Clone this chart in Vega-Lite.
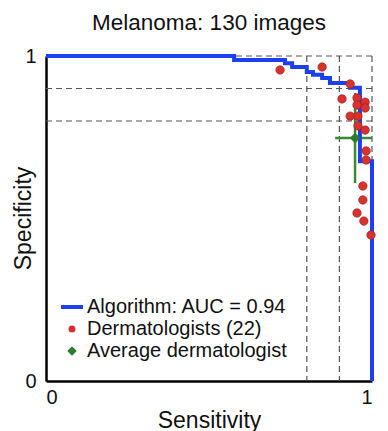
{
  "$schema": "https://vega.github.io/schema/vega-lite/v6.json",
  "width": 326,
  "height": 325,
  "autosize": "none",
  "padding": {"left": 46, "top": 56, "right": 16, "bottom": 50},
  "title": {"text": "Melanoma: 130 images", "fontSize": 22.5, "fontWeight": "normal", "font": "Liberation Sans", "color": "#111", "anchor": "middle", "offset": 12},
  "datasets": {
    "vgrid": [{"v": 0.8}, {"v": 0.9}, {"v": 1.0}],
    "hgrid": [{"v": 0.8}, {"v": 0.9}, {"v": 1.0}],
    "roc": [
      {"i": 0, "sens": 0.0, "spec": 1.0, "series": "Algorithm: AUC = 0.94"},
      {"i": 1, "sens": 0.577, "spec": 1.0, "series": "Algorithm: AUC = 0.94"},
      {"i": 2, "sens": 0.577, "spec": 0.988, "series": "Algorithm: AUC = 0.94"},
      {"i": 3, "sens": 0.733, "spec": 0.988, "series": "Algorithm: AUC = 0.94"},
      {"i": 4, "sens": 0.733, "spec": 0.978, "series": "Algorithm: AUC = 0.94"},
      {"i": 5, "sens": 0.755, "spec": 0.978, "series": "Algorithm: AUC = 0.94"},
      {"i": 6, "sens": 0.755, "spec": 0.966, "series": "Algorithm: AUC = 0.94"},
      {"i": 7, "sens": 0.8, "spec": 0.966, "series": "Algorithm: AUC = 0.94"},
      {"i": 8, "sens": 0.8, "spec": 0.951, "series": "Algorithm: AUC = 0.94"},
      {"i": 9, "sens": 0.819, "spec": 0.951, "series": "Algorithm: AUC = 0.94"},
      {"i": 10, "sens": 0.819, "spec": 0.942, "series": "Algorithm: AUC = 0.94"},
      {"i": 11, "sens": 0.847, "spec": 0.942, "series": "Algorithm: AUC = 0.94"},
      {"i": 12, "sens": 0.847, "spec": 0.932, "series": "Algorithm: AUC = 0.94"},
      {"i": 13, "sens": 0.871, "spec": 0.932, "series": "Algorithm: AUC = 0.94"},
      {"i": 14, "sens": 0.871, "spec": 0.917, "series": "Algorithm: AUC = 0.94"},
      {"i": 15, "sens": 0.933, "spec": 0.917, "series": "Algorithm: AUC = 0.94"},
      {"i": 16, "sens": 0.933, "spec": 0.902, "series": "Algorithm: AUC = 0.94"},
      {"i": 17, "sens": 0.963, "spec": 0.902, "series": "Algorithm: AUC = 0.94"},
      {"i": 18, "sens": 0.963, "spec": 0.676, "series": "Algorithm: AUC = 0.94"},
      {"i": 19, "sens": 1.0, "spec": 0.676, "series": "Algorithm: AUC = 0.94"},
      {"i": 20, "sens": 1.0, "spec": 0.0, "series": "Algorithm: AUC = 0.94"}
    ],
    "derm": [
      {"sens": 0.718, "spec": 0.957, "series": "Dermatologists (22)"},
      {"sens": 0.847, "spec": 0.966, "series": "Dermatologists (22)"},
      {"sens": 0.933, "spec": 0.914, "series": "Dermatologists (22)"},
      {"sens": 0.908, "spec": 0.868, "series": "Dermatologists (22)"},
      {"sens": 0.954, "spec": 0.871, "series": "Dermatologists (22)"},
      {"sens": 0.979, "spec": 0.858, "series": "Dermatologists (22)"},
      {"sens": 0.954, "spec": 0.849, "series": "Dermatologists (22)"},
      {"sens": 0.979, "spec": 0.84, "series": "Dermatologists (22)"},
      {"sens": 0.933, "spec": 0.815, "series": "Dermatologists (22)"},
      {"sens": 0.957, "spec": 0.815, "series": "Dermatologists (22)"},
      {"sens": 0.957, "spec": 0.785, "series": "Dermatologists (22)"},
      {"sens": 0.979, "spec": 0.772, "series": "Dermatologists (22)"},
      {"sens": 0.982, "spec": 0.708, "series": "Dermatologists (22)"},
      {"sens": 0.982, "spec": 0.68, "series": "Dermatologists (22)"},
      {"sens": 0.972, "spec": 0.6, "series": "Dermatologists (22)"},
      {"sens": 0.972, "spec": 0.557, "series": "Dermatologists (22)"},
      {"sens": 0.954, "spec": 0.517, "series": "Dermatologists (22)"},
      {"sens": 0.975, "spec": 0.492, "series": "Dermatologists (22)"},
      {"sens": 0.997, "spec": 0.449, "series": "Dermatologists (22)"}
    ],
    "avg": [
      {"sens": 0.948, "spec": 0.748, "sens_lo": 0.887, "sens_hi": 1.0, "spec_lo": 0.609, "spec_hi": 0.886, "series": "Average dermatologist"}
    ]
  },
  "layer": [
    {
      "data": {"name": "vgrid"},
      "mark": {"type": "rule", "color": "#555", "strokeDash": [6, 4], "strokeWidth": 1.2},
      "encoding": {"x": {"field": "v", "type": "quantitative", "scale": {"domain": [0, 1]}}}
    },
    {
      "data": {"name": "hgrid"},
      "mark": {"type": "rule", "color": "#555", "strokeDash": [6, 4], "strokeWidth": 1.2},
      "encoding": {"y": {"field": "v", "type": "quantitative", "scale": {"domain": [0, 1]}}}
    },
    {
      "data": {"name": "avg"},
      "mark": {"type": "rule", "color": "#3b8a30", "strokeWidth": 2.5},
      "encoding": {
        "x": {"field": "sens_lo", "type": "quantitative"},
        "x2": {"field": "sens_hi"},
        "y": {"field": "spec", "type": "quantitative"}
      }
    },
    {
      "data": {"name": "avg"},
      "mark": {"type": "rule", "color": "#3b8a30", "strokeWidth": 2.5},
      "encoding": {
        "x": {"field": "sens", "type": "quantitative"},
        "y": {"field": "spec_lo", "type": "quantitative"},
        "y2": {"field": "spec_hi"}
      }
    },
    {
      "data": {"name": "roc"},
      "mark": {"type": "line", "strokeWidth": 4, "strokeJoin": "miter", "strokeCap": "butt"},
      "encoding": {
        "x": {"field": "sens", "type": "quantitative", "scale": {"domain": [0, 1]},
          "axis": {"title": "Sensitivity", "values": [0, 1], "format": "d", "labelPadding": 6, "titlePadding": 2}},
        "y": {"field": "spec", "type": "quantitative", "scale": {"domain": [0, 1]},
          "axis": {"title": "Specificity", "values": [0, 1], "format": "d", "labelPadding": 10, "titleX": -23, "titleY": 162, "titleBaseline": "middle", "titleAlign": "center"}},
        "order": {"field": "i", "type": "quantitative"},
        "color": {
          "field": "series", "type": "nominal",
          "scale": {"domain": ["Algorithm: AUC = 0.94", "Dermatologists (22)", "Average dermatologist"], "range": ["#1c3ff2", "#d8322e", "#2f7d2a"]},
          "legend": {
            "title": null, "orient": "none", "legendX": 16, "legendY": 241,
            "symbolSize": 484, "labelFontSize": 20, "labelFont": "Liberation Sans", "labelColor": "#111",
            "labelLimit": 0, "labelOffset": 5, "rowPadding": 2, "padding": 0,
            "encode": {
              "symbols": {
                "update": {
                  "shape": {"signal": "datum.value === 'Algorithm: AUC = 0.94' ? 'stroke' : datum.value === 'Dermatologists (22)' ? 'circle' : 'diamond'"},
                  "size": {"signal": "datum.value === 'Algorithm: AUC = 0.94' ? 484 : datum.value === 'Dermatologists (22)' ? 49 : 90"},
                  "strokeWidth": {"signal": "datum.value === 'Algorithm: AUC = 0.94' ? 4 : 0"},
                  "stroke": {"signal": "scale('color', datum.value)"},
                  "fill": {"signal": "scale('color', datum.value)"},
                  "opacity": {"value": 1}
                }
              }
            }
          }
        }
      }
    },
    {
      "data": {"name": "derm"},
      "mark": {"type": "point", "filled": true, "shape": "circle", "size": 72, "opacity": 1, "stroke": "#9e1c1a", "strokeWidth": 0.6},
      "encoding": {
        "x": {"field": "sens", "type": "quantitative"},
        "y": {"field": "spec", "type": "quantitative"},
        "color": {"field": "series", "type": "nominal"}
      }
    },
    {
      "data": {"name": "avg"},
      "mark": {"type": "point", "filled": true, "shape": "diamond", "size": 110, "opacity": 1},
      "encoding": {
        "x": {"field": "sens", "type": "quantitative"},
        "y": {"field": "spec", "type": "quantitative"},
        "color": {"field": "series", "type": "nominal"}
      }
    }
  ],
  "config": {
    "view": {"stroke": null},
    "font": "Liberation Sans",
    "axis": {
      "grid": false, "ticks": false, "domainColor": "#000", "domainWidth": 2.5,
      "labelFontSize": 20, "labelColor": "#111", "labelFont": "Liberation Sans",
      "titleFontSize": 23, "titleFontWeight": "normal", "titleColor": "#111", "titleFont": "Liberation Sans"
    }
  }
}
